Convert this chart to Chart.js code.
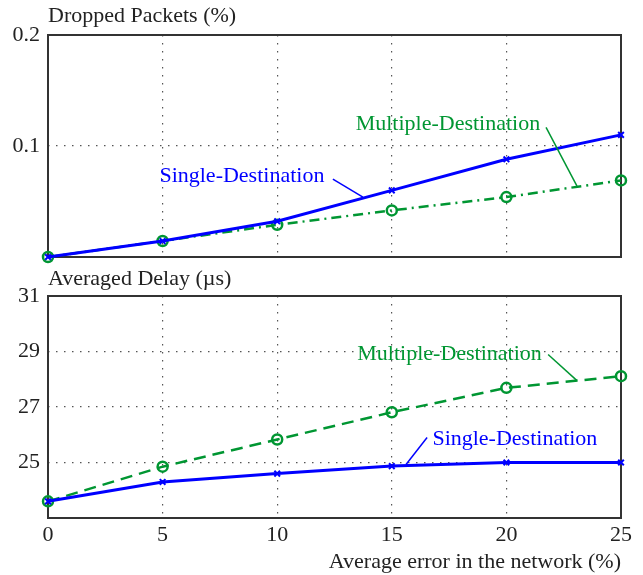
<!DOCTYPE html>
<html>
<head>
<meta charset="utf-8">
<script src="https://cdn.jsdelivr.net/npm/chart.js@4.4.1/dist/chart.umd.min.js"></script>
<style>
  html, body { margin: 0; padding: 0; background: #fff; }
  #wrap { width: 643px; height: 575px; position: relative; }
  .box { position: absolute; left: 0; width: 643px; }
  #top { top: 0; height: 285px; z-index: 1; }
  #bot { top: 262px; height: 313px; z-index: 2; }
</style>
</head>
<body>
<div id="wrap">
  <div class="box" id="top"><canvas id="dropChart"></canvas></div>
  <div class="box" id="bot"><canvas id="delayChart"></canvas></div>
</div>
<script>
// x values: average error in the network (%)
const errors = [0, 5, 10, 15, 20, 25];

// Dropped packets (%)
const dropSingle = [0, 0.0144, 0.0322, 0.060, 0.088, 0.110];
const dropMultiple = [0, 0.0144, 0.029, 0.042, 0.054, 0.069];

// Averaged delay (µs)
const delaySingle = [23.6, 24.3, 24.6, 24.87, 25.0, 25.0];
const delayMultiple = [23.6, 24.85, 25.83, 26.81, 27.69, 28.11];

const BLUE = 'rgb(0,0,255)';
const GREEN = 'rgb(0,150,50)';
const INK = '#222';
const SERIF = '"Liberation Serif", "DejaVu Serif", serif';
const FS = 22;

const pts = (ys) => ys.map((y, i) => ({ x: errors[i], y }));

// labels with leader lines, placed in data coordinates
const dropNotes = [
    { text: 'Single-Destination', color: BLUE, at: [8.46, 0.0728], line: [[12.43, 0.0701], [13.74, 0.0539]] },
    { text: 'Multiple-Destination', color: GREEN, at: [17.45, 0.1195], line: [[21.73, 0.1168], [23.08, 0.0638]] }
];
const delayNotes = [
    { text: 'Multiple-Destination', color: GREEN, at: [17.52, 28.89], line: [[21.82, 28.89], [23.08, 27.95]] },
    { text: 'Single-Destination', color: BLUE, at: [20.37, 25.83], line: [[16.54, 25.90], [15.62, 24.93]] }
];

const framePlugin = {
    id: 'frame',
    beforeDatasetsDraw(chart) {
        const a = chart.chartArea;
        const ctx = chart.ctx;
        ctx.save();
        ctx.strokeStyle = '#333';
        ctx.lineWidth = 2;
        ctx.strokeRect(a.left, a.top, a.right - a.left, a.bottom - a.top);
        ctx.restore();
    }
};

const notesPlugin = {
    id: 'notes',
    afterDatasetsDraw(chart, args, opts) {
        const ctx = chart.ctx;
        const xs = chart.scales.x, ys = chart.scales.y;
        ctx.save();
        (opts.items || []).forEach(n => {
            ctx.strokeStyle = n.color;
            ctx.lineWidth = 1.5;
            ctx.beginPath();
            ctx.moveTo(xs.getPixelForValue(n.line[0][0]), ys.getPixelForValue(n.line[0][1]));
            ctx.lineTo(xs.getPixelForValue(n.line[1][0]), ys.getPixelForValue(n.line[1][1]));
            ctx.stroke();
            ctx.fillStyle = n.color;
            ctx.font = FS + 'px ' + SERIF;
            ctx.textAlign = 'center';
            ctx.textBaseline = 'middle';
            ctx.fillText(n.text, xs.getPixelForValue(n.at[0]), ys.getPixelForValue(n.at[1]));
        });
        ctx.restore();
    }
};

function gridColor(edges) {
    return c => (edges.includes(c.tick.value) ? 'rgba(0,0,0,0)' : '#555');
}

function makeChart(id, opts) {
    return new Chart(document.getElementById(id), {
        type: 'line',
        data: {
            datasets: [
                {
                    label: 'Single-Destination',
                    data: pts(opts.single),
                    borderColor: BLUE,
                    backgroundColor: BLUE,
                    borderWidth: 3,
                    pointStyle: 'crossRot',
                    pointRadius: 4,
                    pointBorderWidth: 2,
                    tension: 0,
                    clip: false
                },
                {
                    label: 'Multiple-Destination',
                    data: pts(opts.multiple),
                    borderColor: GREEN,
                    backgroundColor: 'rgba(0,0,0,0)',
                    borderWidth: 2.5,
                    borderDash: opts.dash,
                    pointStyle: 'circle',
                    pointRadius: 5,
                    pointBorderWidth: 2.5,
                    tension: 0,
                    clip: false
                }
            ]
        },
        options: {
            responsive: true,
            maintainAspectRatio: false,
            animation: false,
            layout: { padding: { left: 0, right: 22, top: 0, bottom: 0 } },
            plugins: {
                legend: { display: false },
                tooltip: { enabled: false },
                title: {
                    display: true,
                    text: opts.title,
                    align: 'start',
                    fullSize: false,
                    color: INK,
                    font: { family: SERIF, size: FS, weight: 'normal', lineHeight: 1.2 },
                    padding: opts.titlePad
                },
                notes: { items: opts.notes }
            },
            scales: {
                x: {
                    type: 'linear',
                    min: 0,
                    max: 25,
                    border: { display: false, dash: [1.5, 6.5] },
                    grid: { color: gridColor([0, 25]), drawTicks: false, lineWidth: 1.2 },
                    ticks: { display: opts.showX, stepSize: 5, padding: 4, color: INK, font: { family: SERIF, size: FS } },
                    title: {
                        display: opts.showX,
                        text: 'Average error in the network (%)',
                        align: 'end',
                        color: INK,
                        font: { family: SERIF, size: FS },
                        padding: { top: 0, bottom: 0 }
                    },
                    afterFit(s) { s.height = opts.xHeight; }
                },
                y: {
                    min: opts.yMin,
                    max: opts.yMax,
                    border: { display: false, dash: [1.5, 6.5] },
                    grid: { color: gridColor([opts.yMin, opts.yMax]), drawTicks: false, lineWidth: 1.2 },
                    ticks: {
                        stepSize: opts.yStep,
                        padding: 8,
                        color: INK,
                        font: { family: SERIF, size: FS },
                        callback: v => (v === opts.yMin ? '' : opts.fmt(v))
                    },
                    afterFit(s) { s.width = 48; }
                }
            }
        },
        plugins: [framePlugin, notesPlugin]
    });
}

makeChart('dropChart', {
    title: 'Dropped Packets (%)',
    titlePad: { top: 3, bottom: 5.6 },
    single: dropSingle,
    multiple: dropMultiple,
    dash: [10, 5, 2, 5],
    notes: dropNotes,
    showX: false,
    xHeight: 28,
    yMin: 0, yMax: 0.2, yStep: 0.1,
    fmt: v => v.toFixed(1)
});

makeChart('delayChart', {
    title: 'Averaged Delay (\u00b5s)',
    titlePad: { top: 3.8, bottom: 3.8 },
    single: delaySingle,
    multiple: delayMultiple,
    dash: [12, 7],
    notes: delayNotes,
    showX: true,
    xHeight: 57,
    yMin: 23, yMax: 31, yStep: 2,
    fmt: v => String(v)
});
</script>
</body>
</html>
